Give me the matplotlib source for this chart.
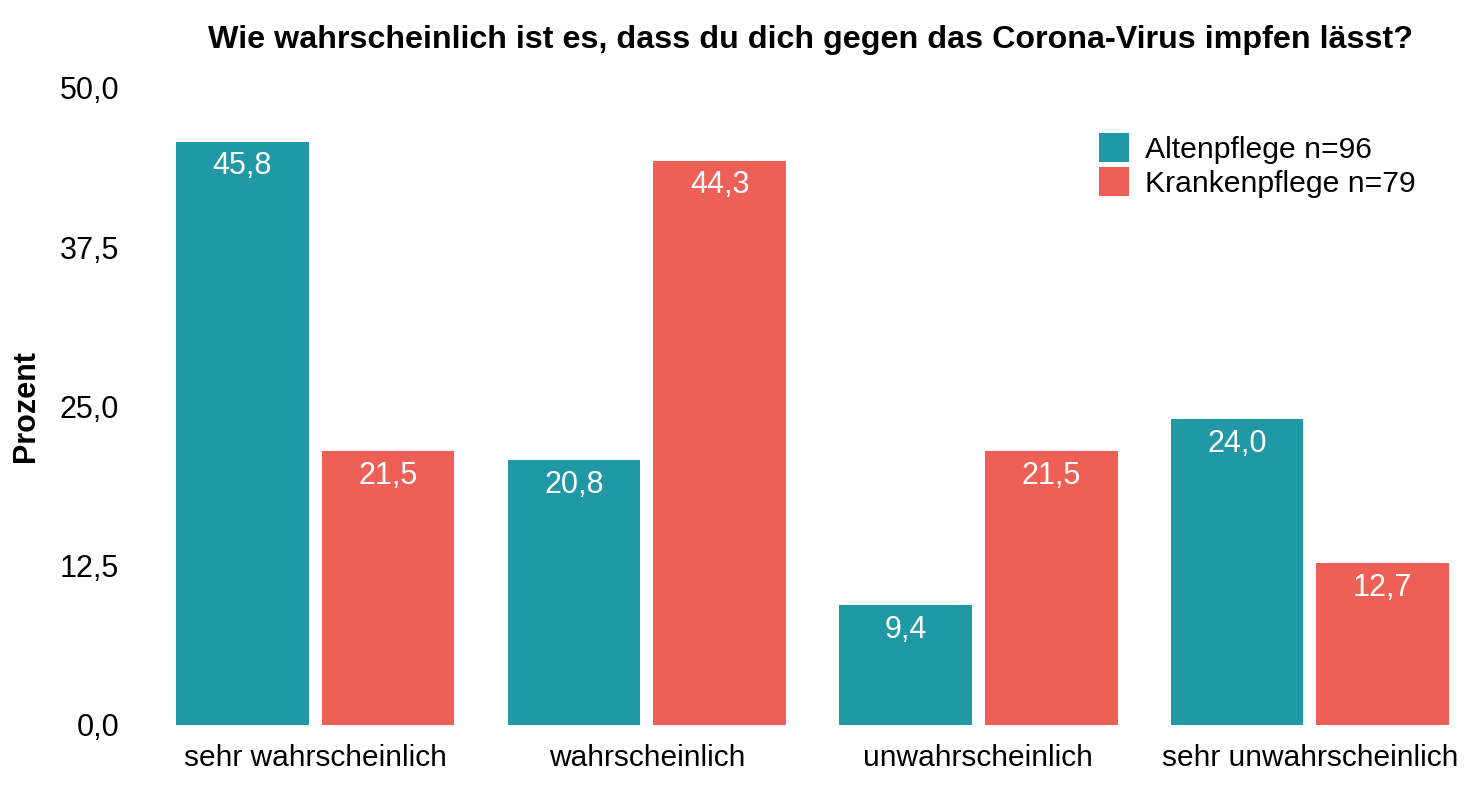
import matplotlib.pyplot as plt
import numpy as np

plt.rcParams['font.family'] = ['Liberation Sans', 'DejaVu Sans']

categories = ['sehr wahrscheinlich', 'wahrscheinlich', 'unwahrscheinlich', 'sehr unwahrscheinlich']
altenpflege = [45.8, 20.8, 9.4, 24.0]
krankenpflege = [21.5, 44.3, 21.5, 12.7]
series_labels = ['Altenpflege n=96', 'Krankenpflege n=79']
yticks = [0, 12.5, 25, 37.5, 50]

teal = '#2198A5'
red = '#EE5F55'

fig = plt.figure(figsize=(14.82, 7.98), dpi=100)
ax = fig.add_axes([0.11876, 0.09148, 0.8590, 0.79825])

x = np.arange(len(categories))
w = 0.4
off = 0.22
b1 = ax.bar(x - off, altenpflege, w, color=teal, label=series_labels[0])
b2 = ax.bar(x + off, krankenpflege, w, color=red, label=series_labels[1])

for bars, vals in [(b1, altenpflege), (b2, krankenpflege)]:
    for r, v in zip(bars, vals):
        ax.annotate(f'{v:.1f}'.replace('.', ','), (r.get_x() + r.get_width() / 2, v),
                    xytext=(0, -7), textcoords='offset points', ha='center', va='top',
                    color='white', fontsize=22)

ax.set_xlim(-0.42, 3.42)
ax.set_ylim(0, 50)
ax.set_yticks(yticks)
ax.set_yticklabels([f'{t:.1f}'.replace('.', ',') for t in yticks])
ax.set_xticks(x)
ax.set_xticklabels(categories)
ax.tick_params(axis='y', length=0, pad=41, labelsize=22)
ax.tick_params(axis='x', length=0, pad=14, labelsize=21.5)
for s in ax.spines.values():
    s.set_visible(False)

ax.set_ylabel('Prozent', fontsize=22, fontweight='bold')
ax.yaxis.set_label_coords(-0.106, 0.5)

fig.text(0.547, 0.950, 'Wie wahrscheinlich ist es, dass du dich gegen das Corona-Virus impfen lässt?',
         ha='center', va='center', fontsize=23.2, fontweight='bold')

ax.legend(loc='upper right', bbox_to_anchor=(0.993, 0.967), frameon=False, fontsize=21.7,
          handlelength=1.0, handleheight=1.1, handletextpad=0.55, labelspacing=0.1,
          borderpad=0.3)

fig.savefig('out.png', dpi=100)
